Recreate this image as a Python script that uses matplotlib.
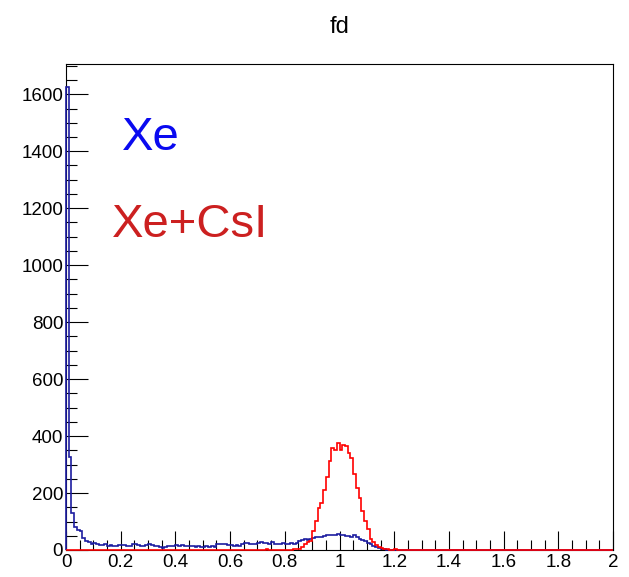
import numpy as np
import matplotlib
matplotlib.use("Agg")
import matplotlib.pyplot as plt
from matplotlib.ticker import MultipleLocator

plt.rcParams['font.family'] = ['Liberation Sans', 'DejaVu Sans']

# histogram binning: 200 bins of width 0.01 from 0 to 2
bin_edges = np.linspace(0.0, 2.0, 201)

xe_counts = [
    1625, 327, 129, 82, 70, 68, 42, 30, 28, 20,
    23, 20, 18, 18, 21, 15, 18, 15, 14, 18,
    19, 17, 15, 14, 20, 21, 16, 14, 15, 19,
    21, 17, 14, 15, 12, 8, 10, 13, 14, 15,
    16, 15, 16, 15, 15, 14, 13, 12, 13, 12,
    12, 13, 12, 14, 12, 21, 20, 22, 20, 18,
    17, 15, 16, 15, 20, 26, 24, 21, 22, 20,
    25, 27, 23, 24, 22, 27, 21, 20, 22, 25,
    21, 20, 23, 21, 24, 30, 35, 37, 36, 40,
    42, 47, 47, 44, 50, 54, 52, 54, 54, 56,
    53, 52, 48, 50, 47, 52, 44, 40, 35, 30,
    26, 20, 15, 10, 7, 4, 2, 1, 0, 0,
    0, 0, 0, 0, 0, 0, 0, 0, 0, 0,
    0, 0, 0, 0, 0, 0, 0, 0, 0, 0,
    0, 0, 0, 0, 0, 0, 0, 0, 0, 0,
    0, 0, 0, 0, 0, 0, 0, 0, 0, 0,
    0, 0, 0, 0, 0, 0, 0, 0, 0, 0,
    0, 0, 0, 0, 0, 0, 0, 0, 0, 0,
    0, 0, 0, 0, 0, 0, 0, 0, 0, 0,
    0, 0, 0, 0, 0, 0, 0, 0, 0, 0,
]

xecsi_counts = [
    0, 0, 0, 0, 0, 0, 0, 0, 0, 0,
    0, 0, 0, 0, 0, 0, 0, 0, 0, 0,
    0, 0, 0, 0, 0, 0, 0, 0, 0, 0,
    0, 0, 0, 0, 0, 0, 0, 0, 0, 0,
    0, 0, 0, 0, 0, 0, 0, 0, 0, 0,
    0, 0, 0, 0, 0, 0, 0, 0, 0, 0,
    0, 0, 0, 0, 0, 0, 0, 0, 0, 0,
    0, 0, 0, 3, 0, 0, 0, 0, 0, 0,
    0, 0, 0, 2, 3, 5, 12, 22, 27, 30,
    68, 103, 148, 165, 210, 255, 312, 359, 351, 376,
    352, 368, 366, 341, 324, 266, 219, 184, 138, 103,
    74, 39, 27, 18, 12, 8, 4, 2, 0, 0,
    2, 0, 0, 0, 0, 0, 0, 0, 0, 0,
    0, 0, 0, 0, 0, 0, 0, 0, 0, 0,
    0, 0, 0, 0, 0, 0, 0, 0, 0, 0,
    0, 0, 0, 0, 0, 0, 0, 0, 0, 0,
    0, 0, 0, 0, 0, 0, 0, 0, 0, 0,
    0, 0, 0, 0, 0, 0, 0, 0, 0, 0,
    0, 0, 0, 0, 0, 0, 0, 0, 0, 0,
    0, 0, 0, 0, 0, 0, 0, 0, 0, 0,
]

x_ticks = [0, 0.2, 0.4, 0.6, 0.8, 1, 1.2, 1.4, 1.6, 1.8, 2]
x_tick_labels = ["0", "0.2", "0.4", "0.6", "0.8", "1", "1.2", "1.4", "1.6", "1.8", "2"]
y_ticks = [0, 200, 400, 600, 800, 1000, 1200, 1400, 1600]

fig = plt.figure(figsize=(6.29, 5.77), dpi=100)
ax = fig.add_axes([66/629, 1 - 550/577, (613-66)/629, (550-64)/577])

ax.stairs(xe_counts, bin_edges, color='#1c1ca0', linewidth=1.2, zorder=3, clip_on=False)
ax.stairs(xecsi_counts, bin_edges, color='#ff0000', linewidth=1.2, zorder=4, clip_on=False)

ax.set_xlim(0, 2)
ax.set_ylim(0, 1.05 * max(xe_counts))

ax.set_xticks(x_ticks)
ax.set_xticklabels(x_tick_labels)
ax.set_yticks(y_ticks)
ax.xaxis.set_minor_locator(MultipleLocator(0.05))
ax.yaxis.set_minor_locator(MultipleLocator(50))

ax.tick_params(axis='both', which='both', direction='in', top=False, right=False,
               width=0.8, colors='black')
ax.tick_params(axis='x', which='major', length=14, pad=3, labelsize=13.5)
ax.tick_params(axis='x', which='minor', length=7)
ax.tick_params(axis='y', which='major', length=16, pad=2, labelsize=13.5)
ax.tick_params(axis='y', which='minor', length=8)

for s in ax.spines.values():
    s.set_linewidth(0.8)
    s.set_color('black')

ax.set_title("fd", fontsize=17, pad=22)

ax.text(0.205, 1405, "Xe", color='#0a0af0', fontsize=34, va='baseline', ha='left')
ax.text(0.168, 1100, "Xe+CsI", color='#cc2020', fontsize=34, va='baseline', ha='left')

fig.savefig("out.png", dpi=100)
